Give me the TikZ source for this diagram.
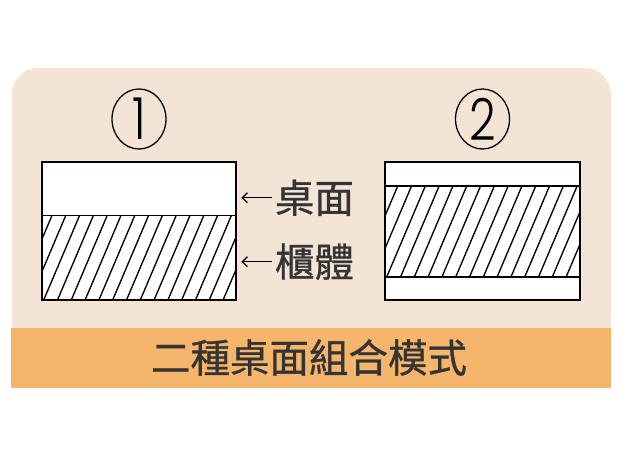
\documentclass[tikz,border=0pt]{standalone}
\usepackage{fontspec}
\newfontfamily\cjk{Noto Sans CJK TC}[FakeBold=0.8]
\newfontfamily\thindigit{Poppins Light}
\usetikzlibrary{positioning, arrows.meta, shapes.geometric}
\definecolor{paper}{RGB}{243,228,214}
\definecolor{band}{RGB}{245,182,108}
\definecolor{ink}{RGB}{52,52,52}
\tikzset{
  part/.style={draw, fill=white, line width=1.6pt, minimum width=194pt, anchor=south west},
  hatched/.style={part, path picture={
      \foreach \k in {-4,...,15}
        \draw[line width=1.35pt] ([xshift=\k*13.8pt, yshift=-4pt]path picture bounding box.south west) -- ++(67:120pt);}},
  ring/.style={ellipse, draw, line width=1.3pt, minimum width=54pt, minimum height=60pt, font=\thindigit\fontsize{58}{58}\selectfont},
  tag/.style={text=ink, font=\cjk\fontsize{39.5}{39.5}\selectfont},
  pointer/.style={line width=1.3pt, -{Straight Barb[length=5pt, width=10pt]}, shorten <=3.5pt}
}

\begin{document}
\begin{tikzpicture}[x=1pt, y=1pt, every node/.style={inner sep=0pt, outer sep=0pt}]
	\useasboundingbox (0,0) rectangle (630,459);
	% background and band
	\fill[paper] (12,131) -- (12,365) arc[start angle=180, end angle=90, radius=26] -- (585,391) arc[start angle=90, end angle=0, radius=26] -- (611,131) -- cycle;
	\fill[band] (11,71) rectangle (611,131);
	\node[tag, font=\cjk\fontsize{39.5}{39.5}\selectfont] (title) at (309,101.5) {二種桌面組合模式};
	% model 1
	\node[hatched, minimum height=84.5pt] (body1) at (42,159) {};
	\node[part, minimum height=53.5pt] (desk1) at (42,243.5) {};
	\node[ring] (ring1) at (139,340) {\scalebox{0.8}[1]{1}};
	\coordinate (tipA) at (241.5,261.3);
	\coordinate (tipB) at (241.5,197.3);
	\node[tag, right=33.5pt of tipA] (deskname) {桌面};
	\node[tag, right=33.5pt of tipB] (bodyname) {櫃體};
	\draw[pointer] (deskname) -- (tipA);
	\draw[pointer] (bodyname) -- (tipB);
	% model 2
	\node[part, minimum height=23pt, minimum width=195pt] (lower2) at (385,159) {};
	\node[hatched, minimum height=91pt, minimum width=195pt] (body2) at (385,182) {};
	\node[part, minimum height=24pt, minimum width=195pt] (upper2) at (385,273) {};
	\node[ring] (ring2) at (482.5,340) {\scalebox{0.8}[1]{2}};
\end{tikzpicture}
\end{document}
